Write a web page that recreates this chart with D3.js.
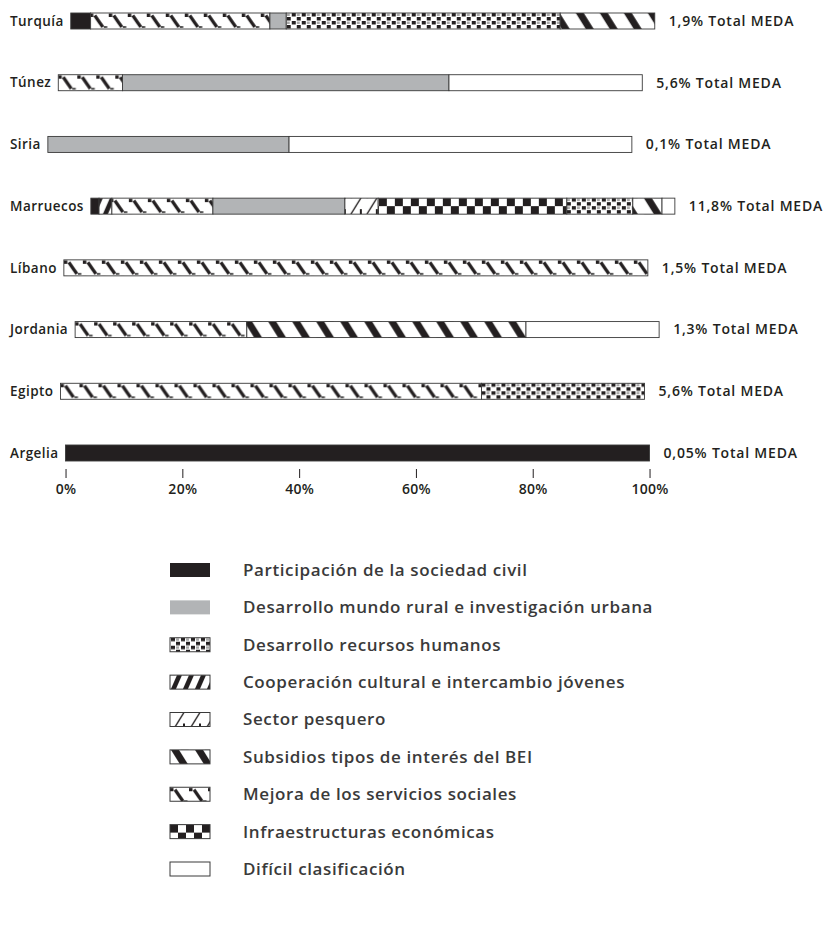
<!DOCTYPE html>
<html>
<head>
<meta charset="utf-8">
<script src="https://cdn.jsdelivr.net/npm/d3@7/dist/d3.min.js"></script>
<style>
  html, body { margin: 0; padding: 0; background: #fff; }
  svg { display: block; }
</style>
</head>
<body>
<svg id="chart" width="827" height="932"></svg>
<script>
// Countries (top to bottom) and each one's share of total MEDA funds
const countries = ["Turquía", "Túnez", "Siria", "Marruecos", "Líbano", "Jordania", "Egipto", "Argelia"];
const totalMeda = ["1,9%", "5,6%", "0,1%", "11,8%", "1,5%", "1,3%", "5,6%", "0,05%"];

// Sector shares (% of each country's total), one array per sector, in country order
const participacion    = [3.4, 0, 0, 1.4, 0, 0, 0, 100];
const desarrolloRural  = [2.8, 55.9, 41.3, 22.6, 0, 0, 0, 0];
const recursosHumanos  = [46.9, 0, 0, 11.3, 0, 0, 27.9, 0];
const cooperacion      = [0, 0, 0, 2.2, 0, 0, 0, 0];
const pesquero         = [0, 0, 0, 5.7, 0, 0, 0, 0];
const subsidiosBEI     = [16.2, 0, 0, 5.0, 0, 47.8, 0, 0];
const serviciosSociales= [30.7, 11.0, 0, 17.3, 100, 29.4, 72.1, 0];
const infraestructuras = [0, 0, 0, 32.3, 0, 0, 0, 0];
const dificil          = [0, 33.1, 58.7, 2.2, 0, 22.8, 0, 0];

// Legend labels (legend order)
const legendLabels = [
  "Participación de la sociedad civil",
  "Desarrollo mundo rural e investigación urbana",
  "Desarrollo recursos humanos",
  "Cooperación cultural e intercambio jóvenes",
  "Sector pesquero",
  "Subsidios tipos de interés del BEI",
  "Mejora de los servicios sociales",
  "Infraestructuras económicas",
  "Difícil clasificación"
];
const legendKeys = ["participacion", "rural", "recursos", "cooperacion", "pesquero",
                    "subsidios", "social", "infra", "dificil"];

// Order in which sectors are stacked inside each bar (left to right)
const stackKeys = ["participacion", "cooperacion", "social", "rural", "pesquero",
                   "infra", "recursos", "subsidios", "dificil"];

const tickValues = [0, 20, 40, 60, 80, 100];

// ---- build rows ----
const seriesByKey = {
  participacion, rural: desarrolloRural, recursos: recursosHumanos, cooperacion,
  pesquero, subsidios: subsidiosBEI, social: serviciosSociales, infra: infraestructuras, dificil
};
const rows = countries.map((c, i) => {
  const r = { country: c, total: totalMeda[i] };
  stackKeys.forEach(k => r[k] = seriesByKey[k][i]);
  return r;
});
const stacked = d3.stack().keys(stackKeys)(rows);

const INK = "#231f20";
const GREY = "#b2b4b6";
const FONT = "'Open Sans', 'DejaVu Sans', sans-serif";

const svg = d3.select("#chart");
const defs = svg.append("defs");

// ---- fill patterns ----
function pattern(id, w, h, draw) {
  const p = defs.append("pattern").attr("id", id)
    .attr("patternUnits", "userSpaceOnUse").attr("width", w).attr("height", h);
  p.append("rect").attr("width", w).attr("height", h).attr("fill", "#fff");
  draw(p);
}
pattern("p-social", 19, 16, p => {
  p.append("rect").attr("x", 0).attr("y", 0.5).attr("width", 3.5).attr("height", 3.5).attr("fill", INK);
  p.append("line").attr("x1", 5).attr("y1", 2.5).attr("x2", 13).attr("y2", 14)
    .attr("stroke", INK).attr("stroke-width", 3.2);
  p.append("rect").attr("x", 14).attr("y", 13).attr("width", 3.5).attr("height", 2).attr("fill", "#555");
});
pattern("p-subsidios", 24, 16, p => {
  p.append("polygon").attr("points", "1,0 9,0 19,16 11,16").attr("fill", INK);
});
pattern("p-recursos", 10, 8, p => {
  p.append("rect").attr("x", 1).attr("y", 0).attr("width", 4).attr("height", 3.5).attr("fill", INK);
  p.append("rect").attr("x", 6).attr("y", 4).attr("width", 4).attr("height", 3.5).attr("fill", INK);
  p.append("rect").attr("x", 6).attr("y", 0.5).attr("width", 3).attr("height", 2.5).attr("fill", "#a8a8a8");
});
pattern("p-infra", 16, 16, p => {
  p.append("rect").attr("x", 0).attr("y", 0).attr("width", 8).attr("height", 8).attr("fill", INK);
  p.append("rect").attr("x", 8).attr("y", 8).attr("width", 8).attr("height", 8).attr("fill", INK);
});
pattern("p-cooperacion", 12, 16, p => {
  p.append("polygon").attr("points", "7,0 12,0 5,16 0,16").attr("fill", INK);
});
pattern("p-pesquero", 16, 16, p => {
  p.append("line").attr("x1", 14).attr("y1", 0).attr("x2", 4).attr("y2", 16)
    .attr("stroke", INK).attr("stroke-width", 1.4);
  p.append("rect").attr("x", 13).attr("y", 11).attr("width", 2).attr("height", 5).attr("fill", INK);
});

const fillFor = {
  participacion: INK,
  rural: GREY,
  recursos: "url(#p-recursos)",
  cooperacion: "url(#p-cooperacion)",
  pesquero: "url(#p-pesquero)",
  subsidios: "url(#p-subsidios)",
  social: "url(#p-social)",
  infra: "url(#p-infra)",
  dificil: "#fff"
};

// ---- rows ----
const BAR_LEN = 584, BAR_H = 16, LABEL_X = 10, GAP = 7;
const y = d3.scalePoint().domain(countries).range([21, 453]);

let axisScale = null, axisX0 = 0;

countries.forEach((c, i) => {
  const yc = y(c);
  const label = svg.append("text")
    .attr("x", LABEL_X).attr("y", yc).attr("dy", "0.35em")
    .attr("font-family", FONT).attr("font-weight", 600).attr("font-size", 13.5)
    .attr("letter-spacing", 0.45)
    .attr("fill", INK).text(c);
  const x0 = LABEL_X + label.node().getComputedTextLength() + GAP;
  const x = d3.scaleLinear().domain([0, 100]).range([0, BAR_LEN]);

  const g = svg.append("g").attr("transform", `translate(${x0},${yc - BAR_H / 2})`);
  stacked.forEach(s => {
    const d = s[i];
    if (d[1] - d[0] <= 0) return;
    g.append("rect")
      .attr("x", x(d[0])).attr("y", 0)
      .attr("width", x(d[1]) - x(d[0])).attr("height", BAR_H)
      .attr("fill", fillFor[s.key])
      .attr("stroke", "#3a3a3a").attr("stroke-width", 0.9);
  });

  svg.append("text")
    .attr("x", x0 + BAR_LEN + 14).attr("y", yc).attr("dy", "0.35em")
    .attr("font-family", FONT).attr("font-weight", 600).attr("font-size", 14)
    .attr("letter-spacing", 0.8)
    .attr("fill", INK).text(`${totalMeda[i]} Total MEDA`);

  if (i === countries.length - 1) { axisScale = x; axisX0 = x0; }
});

// ---- percentage axis under the last bar ----
const axis = svg.append("g")
  .attr("transform", `translate(${axisX0},${y(countries[countries.length - 1]) + BAR_H / 2 + 8})`)
  .call(d3.axisBottom(axisScale).tickValues(tickValues).tickSize(9).tickPadding(6)
    .tickFormat(d => d + "%"));
axis.select(".domain").remove();
axis.selectAll(".tick line").attr("stroke", INK).attr("stroke-width", 1);
axis.selectAll(".tick text").attr("font-family", FONT).attr("font-weight", 600)
  .attr("font-size", 14).attr("letter-spacing", 0.3).attr("fill", INK);

// ---- legend ----
const ly = d3.scalePoint().domain(legendKeys).range([570, 869]);
const legend = svg.append("g");
legendKeys.forEach((k, i) => {
  const yc = ly(k);
  const sw = legend.append("g").attr("transform", `translate(170,${yc - 7})`);
  sw.append("rect").attr("width", 40).attr("height", 14)
    .attr("fill", fillFor[k])
    .attr("stroke", (k === "participacion" || k === "rural") ? "none" : "#3a3a3a")
    .attr("stroke-width", 1);
  legend.append("text")
    .attr("x", 243).attr("y", yc).attr("dy", "0.35em")
    .attr("font-family", FONT).attr("font-weight", 600).attr("font-size", 17)
    .attr("letter-spacing", 0.6)
    .attr("fill", "#3a3a3a").text(legendLabels[i]);
});
</script>
</body>
</html>
